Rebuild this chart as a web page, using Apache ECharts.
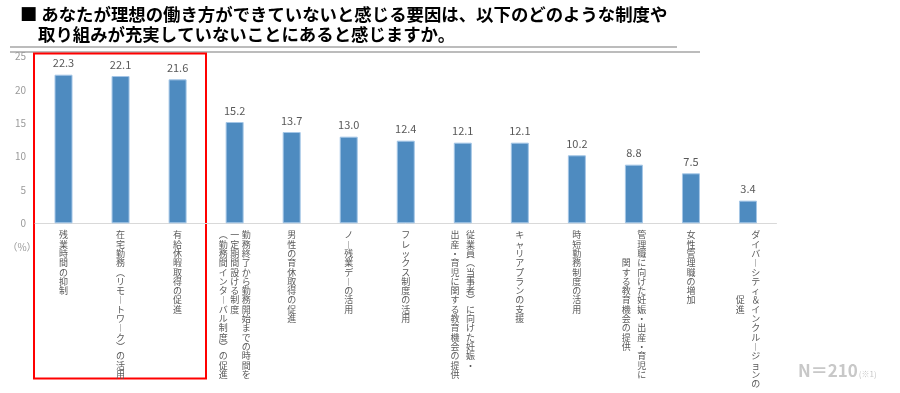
<!DOCTYPE html>
<html>
<head>
<meta charset="utf-8">
<script src="https://cdn.jsdelivr.net/npm/echarts@6/dist/echarts.min.js"></script>
<style>
html,body{margin:0;padding:0;background:#fff;}
#chart{width:900px;height:393px;}
</style>
</head>
<body>
<div id="chart"></div>
<script>
// ---- data ----
const titleLine1 = '■ あなたが理想の働き方ができていないと感じる要因は、以下のどのような制度や';
const titleLine2 = '取り組みが充実していないことにあると感じますか。';
const categories = [
  '残業時間の抑制',
  '在宅勤務（リモートワーク）の活用',
  '有給休暇取得の促進',
  '勤務終了から勤務開始までの時間を\n一定期間設ける制度\n（勤務間インターバル制度）の促進',
  '男性の育休取得の促進',
  'ノー残業デーの活用',
  'フレックス制度の活用',
  '従業員（当事者）に向けた妊娠・\n出産・育児に関する教育機会の提供',
  'キャリアプランの支援',
  '時短勤務制度の活用',
  '管理職に向けた妊娠・出産・育児に\n関する教育機会の提供',
  '女性管理職の増加',
  'ダイバーシティ＆インクルージョンの\n促進'
];
const values = [22.3, 22.1, 21.6, 15.2, 13.7, 13.0, 12.4, 12.1, 12.1, 10.2, 8.8, 7.5, 3.4];
const yMin = 0, yMax = 25, yInterval = 5;
const unitLabel = '（%）';
const sampleLabel = 'N＝210';
const sampleNote = '(※1)';

// ---- rendering config ----
const centeredLabelIdx = [10, 12];
const vertMap = { '（': '︵', '）': '︶', 'ー': '︱' };
const FONT = '"Noto Sans CJK JP", "Noto Sans", sans-serif';

function verticalLabel(value) {
  const idx = categories.indexOf(value);
  const cols = value.split('\n').map(c => Array.from(c).map(ch => vertMap[ch] || ch));
  const n = cols.length;
  const maxLen = Math.max(...cols.map(c => c.length));
  const center = centeredLabelIdx.indexOf(idx) >= 0;
  const off = cols.map(c => center ? Math.floor((maxLen - c.length) / 2) : 0);
  const style = n === 3 ? 'c3' : (n === 2 ? 'c2' : 'c1');
  const lines = [];
  for (let r = 0; r < maxLen; r++) {
    let line = '';
    for (let k = n - 1; k >= 0; k--) {
      const ch = cols[k][r - off[k]];
      line += '{' + style + '|' + (ch !== undefined ? ch : '　') + '}';
    }
    lines.push(line);
  }
  return lines.join('\n');
}

const labelStyle = (w) => ({
  width: w, align: 'center', fontSize: 9, lineHeight: 9.3,
  color: '#595959', fontFamily: FONT
});

const chart = echarts.init(document.getElementById('chart'), null, { renderer: 'canvas' });
chart.setOption({
  backgroundColor: '#ffffff',
  animation: false,
  grid: { left: 35, right: 123.5, top: 56.7, bottom: 169.7, containLabel: false },
  xAxis: {
    type: 'category',
    data: categories,
    axisLine: { show: true, lineStyle: { color: '#d9d9d9', width: 1 } },
    axisTick: { show: false },
    axisLabel: {
      interval: 0,
      margin: 7,
      verticalAlign: 'top',
      align: 'center',
      formatter: verticalLabel,
      rich: { c1: labelStyle(12), c2: labelStyle(15.5), c3: labelStyle(11.5) }
    }
  },
  yAxis: {
    type: 'value',
    min: yMin, max: yMax, interval: yInterval,
    axisLine: { show: false },
    axisTick: { show: false },
    splitLine: { show: false },
    axisLabel: { color: '#9a9a9a', fontSize: 10, margin: 9, fontFamily: FONT }
  },
  series: [{
    type: 'bar',
    data: values,
    barWidth: 18,
    itemStyle: { color: '#4E8BC0', borderColor: '#A4C6E6', borderWidth: 1 },
    label: {
      show: true, position: 'top', distance: 6,
      color: '#595959', fontSize: 11, fontFamily: FONT,
      formatter: p => p.value.toFixed(1)
    }
  }],
  graphic: [
    { type: 'text', left: 20, top: 6, style: { text: titleLine1, fontSize: 17.4, fontWeight: 'bold', fill: '#000', fontFamily: FONT } },
    { type: 'text', left: 38, top: 26, style: { text: titleLine2, fontSize: 17.4, fontWeight: 'bold', fill: '#000', fontFamily: FONT } },
    { type: 'line', shape: { x1: 10, y1: 47, x2: 677, y2: 47 }, style: { stroke: '#a6a6a6', lineWidth: 1.5 } },
    { type: 'line', shape: { x1: 10, y1: 52, x2: 700, y2: 52 }, style: { stroke: '#a6a6a6', lineWidth: 1.5 } },
    { type: 'rect', shape: { x: 34, y: 53.5, width: 172, height: 325 }, style: { fill: 'none', stroke: '#ff0000', lineWidth: 2 } },
    { type: 'text', x: 22, y: 247, style: { text: unitLabel, fontSize: 10, fill: '#9a9a9a', align: 'center', verticalAlign: 'middle', fontFamily: FONT } },
    { type: 'text', x: 798, y: 371, style: {
        text: '{n|' + sampleLabel + '}{s|' + sampleNote + '}',
        verticalAlign: 'middle',
        rich: {
          n: { fontSize: 17, fontWeight: 'bold', fill: '#c8c8c8', color: '#c8c8c8', fontFamily: FONT },
          s: { fontSize: 8, fill: '#c8c8c8', color: '#c8c8c8', fontFamily: FONT, padding: [5, 0, 0, 1] }
        } } }
  ]
});
</script>
</body>
</html>
